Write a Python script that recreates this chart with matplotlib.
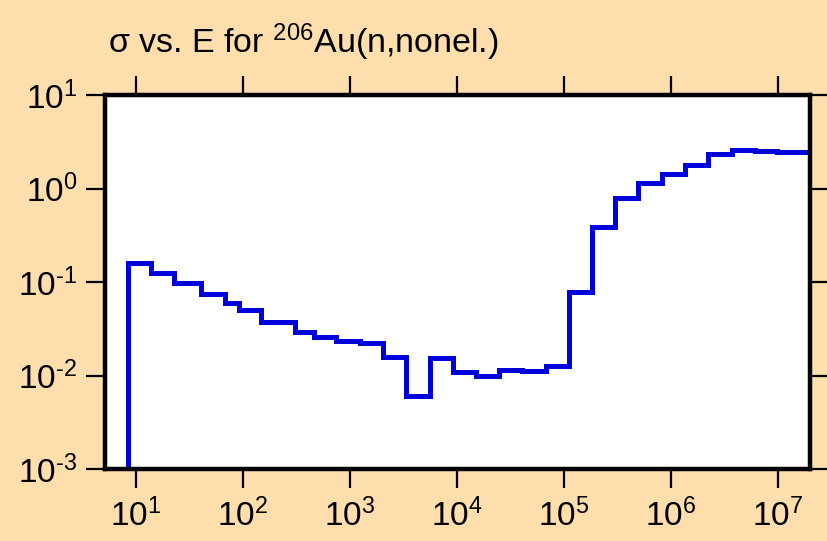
import numpy as np
import matplotlib
matplotlib.use("Agg")
from matplotlib import pyplot as plt
from matplotlib.ticker import FuncFormatter

# group boundaries (eV) and cross sections (b) per group
edges = [8.47, 13.8, 22.8, 40.2, 68.2, 92.0, 149, 305, 457, 748, 1235, 2040,
         3370, 5560, 9180, 15200, 24700, 40800, 67300, 1.11e5, 1.83e5, 3.01e5,
         4.97e5, 8.21e5, 1.36e6, 2.24e6, 3.70e6, 6.11e6, 9.72e6, 2.0e7]
sigma = [0.1615, 0.1264, 0.0973, 0.0743, 0.0604, 0.0499, 0.0379, 0.0296,
         0.0261, 0.0237, 0.0222, 0.0157, 0.00598, 0.0156, 0.0108, 0.00995,
         0.01153, 0.01133, 0.01274, 0.0792, 0.392, 0.787, 1.14, 1.42, 1.80,
         2.34, 2.58, 2.52, 2.48]
x_decades = [1, 2, 3, 4, 5, 6, 7]
y_decades = [-3, -2, -1, 0, 1]

plt.rcParams['font.family'] = ['Liberation Sans', 'DejaVu Sans']
plt.rcParams['mathtext.fontset'] = 'custom'
plt.rcParams['mathtext.rm'] = 'Liberation Sans'
plt.rcParams['mathtext.it'] = 'Liberation Sans'


def pow10(v, pos):
    # plain hyphen in the exponent, as a text-mode run
    return r'$\mathdefault{10^{\text{%d}}}$' % round(np.log10(v))


fig = plt.figure(figsize=(8.27, 5.41), dpi=100, facecolor='#FFDEAD')
ax = fig.add_axes([0.127, 0.133, 0.852, 0.691])
ax.set_facecolor('white')

ax.stairs(sigma, edges, baseline=1e-5, color='#0000DD', lw=3.6)

ax.set_xscale('log')
ax.set_yscale('log')
ax.set_xlim(5.14, 1.98e7)
ax.set_ylim(1e-3, 10)

ax.set_xticks([10.0**k for k in x_decades])
ax.set_yticks([10.0**k for k in y_decades])
ax.xaxis.set_major_formatter(FuncFormatter(pow10))
ax.yaxis.set_major_formatter(FuncFormatter(pow10))
ax.minorticks_off()
ax.tick_params(which='major', direction='out', length=14, width=1.6,
               labelsize=24, top=True, right=True, color='black')
ax.tick_params(axis='x', pad=7)
ax.tick_params(axis='y', pad=6)

for s in ax.spines.values():
    s.set_linewidth(3.2)
    s.set_zorder(3)

fig.text(0.131, 0.902, r'σ vs. E for $^{206}$Au(n,nonel.)', fontsize=24.5,
         ha='left', va='baseline')

fig.savefig('out.png', dpi=100, facecolor=fig.get_facecolor())
